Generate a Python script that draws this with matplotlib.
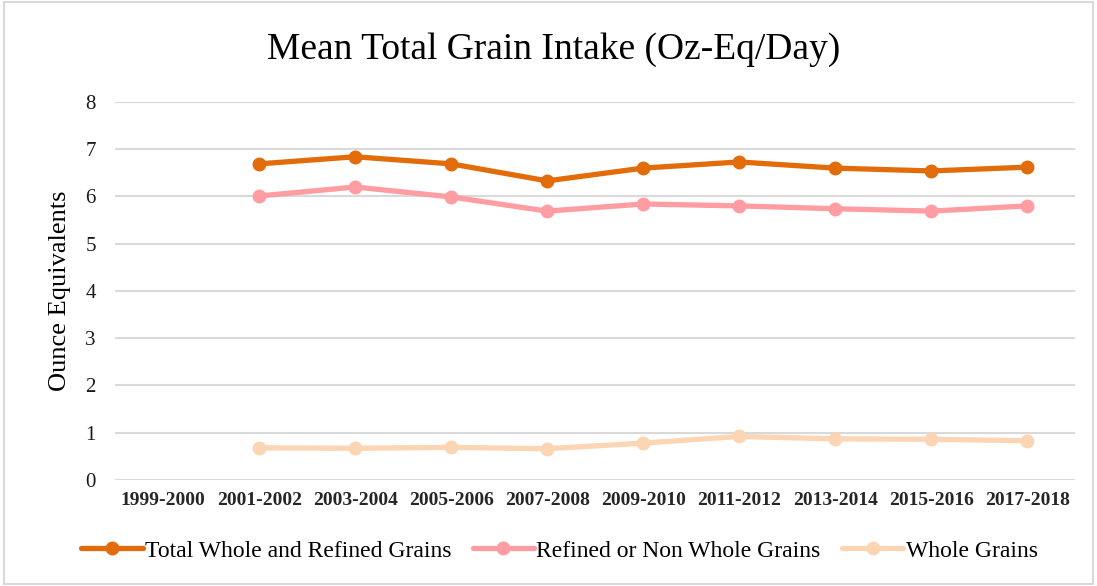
#!/usr/bin/env python3
import matplotlib as mpl
mpl.use('Agg')
from matplotlib import pyplot as plt
from matplotlib.patches import Rectangle

periods = ['1999-2000', '2001-2002', '2003-2004', '2005-2006', '2007-2008',
           '2009-2010', '2011-2012', '2013-2014', '2015-2016', '2017-2018']
total = [None, 6.69, 6.84, 6.69, 6.33, 6.60, 6.73, 6.60, 6.54, 6.62]
refined = [None, 6.01, 6.20, 5.99, 5.69, 5.84, 5.80, 5.74, 5.69, 5.80]
whole = [None, 0.68, 0.67, 0.69, 0.66, 0.78, 0.92, 0.87, 0.86, 0.83]

series = [
    ('Total Whole and Refined Grains', total, '#E36C0A'),
    ('Refined or Non Whole Grains', refined, '#FF9DA3'),
    ('Whole Grains', whole, '#FCD5B4'),
]

plt.rcParams['font.family'] = ['Liberation Serif', 'DejaVu Serif']

fig = plt.figure(figsize=(10.97, 5.86), dpi=100)
fig.patches.append(Rectangle((0.004, 0.004), 0.992, 0.992, transform=fig.transFigure,
                             fill=False, edgecolor='#d9d9d9', linewidth=1.5))
ax = fig.add_axes([0.105, 0.181, 0.875, 0.645])

x = list(range(len(periods)))
for name, vals, col in series:
    xs = [i for i, v in zip(x, vals) if v is not None]
    ys = [v for v in vals if v is not None]
    ax.plot(xs, ys, color=col, linewidth=3.8, marker='o', markersize=9,
            label=name, solid_capstyle='round')

ax.set_xlim(-0.5, len(periods) - 0.5)
ax.set_ylim(0, 8)
ax.set_yticks(range(0, 9))
ax.set_xticks(x)
ax.set_xticklabels(periods, fontsize=14, fontweight='bold', color='#262626')
ax.tick_params(axis='y', labelsize=15, colors='#1a1a1a', length=0, pad=14)
ax.tick_params(axis='x', length=0, pad=9)
ax.grid(axis='y', color='#d9d9d9', linewidth=1.5)
ax.set_axisbelow(True)
for s in ax.spines.values():
    s.set_visible(False)

ax.set_ylabel('Ounce Equivalents', fontsize=19, color='#000000', labelpad=10)
fig.text(0.505, 0.915, 'Mean Total Grain Intake (Oz-Eq/Day)', ha='center', va='center',
         fontsize=27, color='#000000')

fig.legend(loc='center', bbox_to_anchor=(0.51, 0.06), ncol=3, frameon=False,
           fontsize=17, handlelength=2.6, columnspacing=0.9, handletextpad=0.1)

fig.savefig('out.png', dpi=100)
